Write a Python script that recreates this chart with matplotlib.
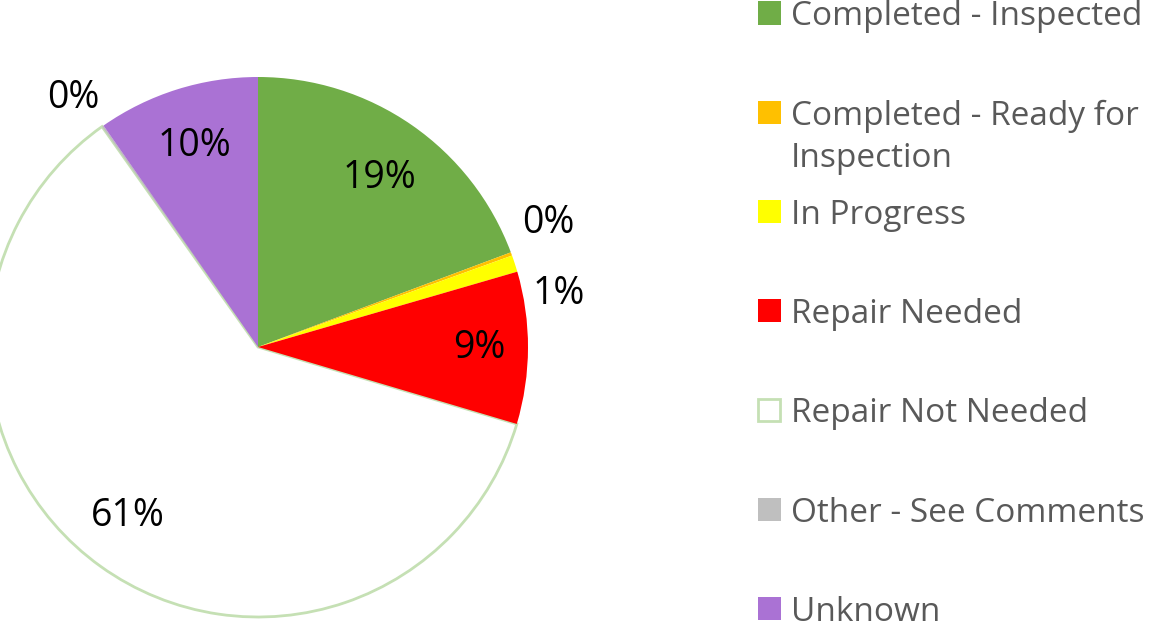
import numpy as np
import matplotlib
matplotlib.use('Agg')
import matplotlib.pyplot as plt
from matplotlib.patches import Rectangle

plt.rcParams['font.family'] = ['Open Sans', 'DejaVu Sans']

# %% data
categories = ['Completed - Inspected', 'Completed - Ready for\nInspection', 'In Progress',
              'Repair Needed', 'Repair Not Needed', 'Other - See Comments', 'Unknown']
shares = [19.3, 0.2, 1.0, 9.1, 60.6, 0.1, 9.7]
colors = ['#70AD47', '#FFC000', '#FFFF00', '#FF0000', '#FFFFFF', '#BFBFBF', '#AA72D4']

# %% layout (pixels)
W, H, DPI = 1155, 623, 100
CX, CY, R = 258, 347, 270

fig = plt.figure(figsize=(W / DPI, H / DPI), dpi=DPI)
ax = fig.add_axes([(CX - R) / W, (H - CY - R) / H, 2 * R / W, 2 * R / H])

wedges, _ = ax.pie(shares, colors=colors, startangle=90, counterclock=False,
                   radius=1, wedgeprops=dict(linewidth=0))
ax.set_xlim(-1, 1)
ax.set_ylim(-1, 1)
ax.set_aspect('equal')
ax.axis('off')
# the white slice gets a light green outline
wedges[4].set_edgecolor('#C5E0B4')
wedges[4].set_linewidth(2)
wedges[4].set_zorder(0)

# data labels: inside for large slices, outside (nudged) for small ones
# (radius, angle shift in degrees)
place = {0: (0.77, -1.0), 1: (1.17, 3.0), 2: (1.13, -8.0), 3: (0.82, 0.0),
         4: (0.79, -2.0), 5: (1.15, 1.5), 6: (0.78, 0.0)}
for i, w in enumerate(wedges):
    r, da = place[i]
    ang = np.deg2rad((w.theta1 + w.theta2) / 2 + da)
    ax.text(r * np.cos(ang), r * np.sin(ang), f'{shares[i]:.0f}%',
            ha='center', va='center', fontsize=27, color='black', clip_on=False)

# legend: evenly spaced slots, square aligned with first text line
row0, step = 13, 99.3
for i, (lab, col) in enumerate(zip(categories, colors)):
    yc = row0 + step * i
    if col == '#FFFFFF':
        sq = Rectangle((758 / W, 1 - (yc + 11) / H), 22 / W, 22 / H, transform=fig.transFigure,
                       facecolor='white', edgecolor='#C5E0B4', linewidth=2)
    else:
        sq = Rectangle((758 / W, 1 - (yc + 11.5) / H), 23 / W, 23 / H, transform=fig.transFigure,
                       facecolor=col, edgecolor='none')
    fig.add_artist(sq)
    fig.text(791 / W, 1 - (yc - 13) / H, lab, ha='left', va='top', fontsize=24,
             color='#595959', linespacing=1.38)

fig.savefig('out.png', dpi=DPI)
